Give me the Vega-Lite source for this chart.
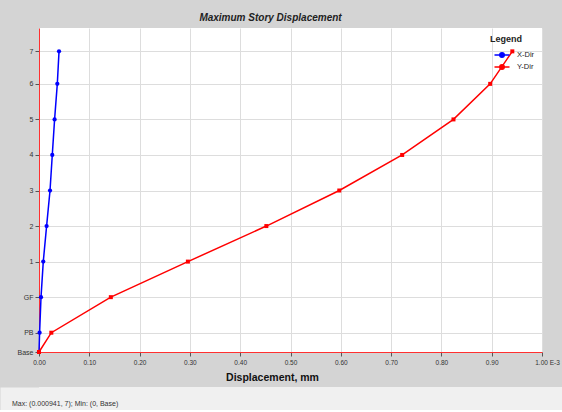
{
  "$schema": "https://vega.github.io/schema/vega-lite/v6.json",
  "background": "#d4d4d4",
  "padding": {"left": 0, "top": 12, "right": 0, "bottom": 0},
  "spacing": 4,
  "columns": 1,
  "align": "none",
  "config": {"font": "Liberation Sans", "view": {"stroke": null}},
  "resolve": {"scale": {"color": "independent"}, "legend": {"color": "independent"}},
  "concat": [
    {
      "width": 503,
      "height": 324,
      "view": {"fill": "white", "stroke": null},
      "title": {"text": "Maximum Story Displacement", "fontSize": 10, "fontWeight": "bold", "fontStyle": "italic", "color": "#222222", "anchor": "middle", "dx": -20, "offset": -2.5, "baseline": "alphabetic"},
      "data": {"values": [
        {"direction": "X-Dir", "story": "Base", "elevation": 0, "displacement": 0},
        {"direction": "X-Dir", "story": "PB", "elevation": 1.9, "displacement": 0.0000012},
        {"direction": "X-Dir", "story": "GF", "elevation": 5.4, "displacement": 0.000004},
        {"direction": "X-Dir", "story": "1", "elevation": 8.9, "displacement": 0.0000085},
        {"direction": "X-Dir", "story": "2", "elevation": 12.4, "displacement": 0.0000151},
        {"direction": "X-Dir", "story": "3", "elevation": 15.9, "displacement": 0.0000219},
        {"direction": "X-Dir", "story": "4", "elevation": 19.4, "displacement": 0.0000264},
        {"direction": "X-Dir", "story": "5", "elevation": 22.9, "displacement": 0.000031},
        {"direction": "X-Dir", "story": "6", "elevation": 26.4, "displacement": 0.0000364},
        {"direction": "X-Dir", "story": "7", "elevation": 29.6, "displacement": 0.0000398},
        {"direction": "Y-Dir", "story": "Base", "elevation": 0, "displacement": 0},
        {"direction": "Y-Dir", "story": "PB", "elevation": 1.9, "displacement": 0.0000245},
        {"direction": "Y-Dir", "story": "GF", "elevation": 5.4, "displacement": 0.0001428},
        {"direction": "Y-Dir", "story": "1", "elevation": 8.9, "displacement": 0.000296},
        {"direction": "Y-Dir", "story": "2", "elevation": 12.4, "displacement": 0.000452},
        {"direction": "Y-Dir", "story": "3", "elevation": 15.9, "displacement": 0.000597},
        {"direction": "Y-Dir", "story": "4", "elevation": 19.4, "displacement": 0.000722},
        {"direction": "Y-Dir", "story": "5", "elevation": 22.9, "displacement": 0.000824},
        {"direction": "Y-Dir", "story": "6", "elevation": 26.4, "displacement": 0.000897},
        {"direction": "Y-Dir", "story": "7", "elevation": 29.6, "displacement": 0.000941}
      ]},
      "encoding": {
        "x": {
          "field": "displacement", "type": "quantitative",
          "scale": {"domain": [0, 0.001], "nice": false, "zero": true},
          "axis": {
            "title": "Displacement, mm", "titleFontSize": 10.5, "titleFontWeight": "bold", "titleColor": "#111111", "titlePadding": 7, "titleX": 233,
            "values": [0, 0.0001, 0.0002, 0.0003, 0.0004, 0.0005, 0.0006, 0.0007, 0.0008, 0.0009, 0.001],
            "labelExpr": "format(datum.value * 1000, '.2f') + (datum.value > 0.00095 ? ' E-3' : '')",
            "labelFontSize": 6.5, "labelColor": "#333333", "labelFlush": false, "labelOverlap": false, "labelPadding": 3,
            "labelOffset": {"condition": {"test": "datum.value > 0.00095", "value": 5}, "value": 0},
            "tickSize": 4, "tickColor": "#555555", "domainColor": "#ff3030", "gridColor": "#dddddd"
          }
        },
        "y": {
          "field": "elevation", "type": "quantitative",
          "scale": {"domain": [0, 31.9], "nice": false, "zero": true},
          "axis": {
            "title": null,
            "values": [0, 1.9, 5.4, 8.9, 12.4, 15.9, 19.4, 22.9, 26.4, 29.6],
            "labelExpr": "datum.value < 1 ? 'Base' : datum.value < 3 ? 'PB' : datum.value < 7 ? 'GF' : datum.value < 10 ? '1' : datum.value < 14 ? '2' : datum.value < 17 ? '3' : datum.value < 21 ? '4' : datum.value < 24 ? '5' : datum.value < 28 ? '6' : '7'",
            "labelFontSize": 7, "labelColor": "#333333", "labelFlush": false, "labelOverlap": false, "labelPadding": 2,
            "tickSize": 4, "tickColor": "#555555", "domainColor": "#ff3030", "gridColor": "#dddddd",
            "minExtent": 39, "maxExtent": 39
          }
        },
        "color": {
          "field": "direction", "type": "nominal",
          "scale": {"domain": ["X-Dir", "Y-Dir"], "range": ["#0000ff", "#ff0000"]},
          "legend": {
            "title": "Legend", "orient": "top-right", "offset": 4, "padding": 3,
            "titleFontSize": 9, "titleFontWeight": "bold", "titleColor": "#222222", "titlePadding": 6,
            "labelFontSize": 7.5, "labelColor": "#222222", "labelOffset": 10, "symbolOffset": 7,
            "symbolType": "M-1.875,0H1.875M-0.5625,0A0.5625,0.5625,0,1,1,0.5625,0A0.5625,0.5625,0,1,1,-0.5625,0Z",
            "symbolSize": 64, "symbolStrokeWidth": 1.5, "rowPadding": 0
          }
        },
        "order": {"field": "elevation", "type": "quantitative"}
      },
      "layer": [
        {"mark": {"type": "line", "strokeWidth": 1.5}},
        {
          "transform": [{"filter": "datum.direction === 'X-Dir'"}],
          "mark": {"type": "point", "shape": "circle", "filled": true, "size": 18, "opacity": 1}
        },
        {
          "transform": [{"filter": "datum.direction === 'Y-Dir'"}],
          "mark": {"type": "point", "shape": "square", "filled": true, "size": 16, "opacity": 1}
        }
      ]
    },
    {
      "width": 523,
      "height": 23,
      "data": {"values": [{"status": "Max: (0.000941, 7);  Min: (0, Base)"}]},
      "title": {"text": "Max: (0.000941, 7);  Min: (0, Base)", "orient": "bottom", "anchor": "start", "offset": -10, "dx": 12, "fontSize": 7, "fontWeight": "normal", "color": "#333333"},
      "layer": [
        {"mark": {"type": "rect", "color": "#f0f0f0"}, "encoding": {}},
        {
          "mark": {"type": "rule", "opacity": 0},
          "encoding": {
            "y": {
              "datum": 0, "type": "quantitative",
              "scale": {"domain": [0, 1]},
              "axis": {"orient": "left", "title": null, "labels": false, "ticks": false, "grid": false, "domainWidth": 78, "domainColor": "#f0f0f0", "domainCap": "butt", "minExtent": 39, "maxExtent": 39}
            }
          }
        }
      ]
    }
  ]
}
